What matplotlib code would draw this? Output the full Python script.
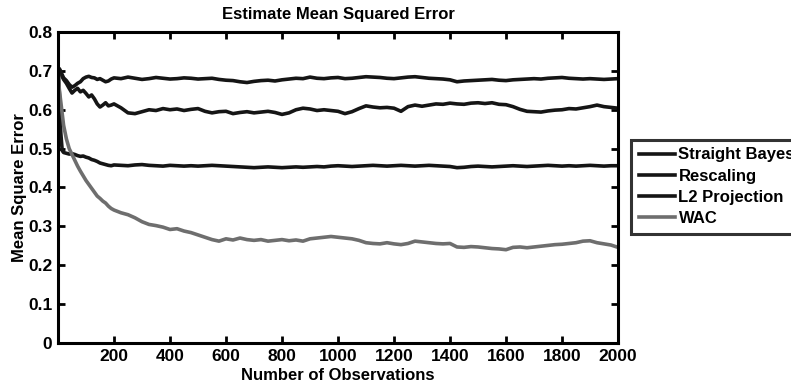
import matplotlib
matplotlib.use("Agg")
import matplotlib.pyplot as plt

# ---- data ----
x_early = [1, 5, 10, 15, 20, 30, 40, 50, 60, 70, 80, 90, 100, 110, 120, 130,
           140, 150, 160, 170, 180, 190]
x_late = list(range(200, 2001, 25))
observations = x_early + x_late

straight_bayes = [
    0.700, 0.705, 0.698, 0.690, 0.682, 0.675, 0.665, 0.658, 0.662, 0.668, 0.672,
    0.680, 0.684, 0.686, 0.683, 0.682, 0.678, 0.680, 0.676, 0.672, 0.674, 0.679,
    0.682, 0.680, 0.684, 0.681, 0.678, 0.680, 0.683, 0.681,
    0.679, 0.680, 0.682, 0.681, 0.679, 0.680, 0.681, 0.678,
    0.676, 0.675, 0.672, 0.670, 0.673, 0.675, 0.676, 0.674,
    0.677, 0.679, 0.681, 0.680, 0.684, 0.681, 0.680, 0.682,
    0.683, 0.680, 0.681, 0.683, 0.685, 0.684, 0.683, 0.681,
    0.680, 0.682, 0.684, 0.685, 0.683, 0.681, 0.680, 0.679,
    0.677, 0.672, 0.674, 0.675, 0.676, 0.677, 0.678, 0.676,
    0.675, 0.677, 0.678, 0.679, 0.680, 0.679, 0.681, 0.682,
    0.683, 0.681, 0.680, 0.679, 0.680, 0.679, 0.678, 0.679,
    0.680,
]

rescaling = [
    0.700, 0.705, 0.695, 0.685, 0.678, 0.668, 0.655, 0.643, 0.650, 0.655, 0.646,
    0.650, 0.642, 0.633, 0.638, 0.628, 0.615, 0.607, 0.612, 0.618, 0.610, 0.612,
    0.615, 0.605, 0.592, 0.590, 0.595, 0.600, 0.598, 0.603,
    0.600, 0.602, 0.598, 0.601, 0.603, 0.596, 0.592, 0.595,
    0.596, 0.590, 0.593, 0.595, 0.592, 0.594, 0.596, 0.593,
    0.588, 0.592, 0.600, 0.604, 0.602, 0.598, 0.600, 0.598,
    0.596, 0.590, 0.595, 0.603, 0.610, 0.607, 0.605, 0.606,
    0.604, 0.596, 0.608, 0.612, 0.609, 0.612, 0.615, 0.614,
    0.617, 0.615, 0.614, 0.617, 0.618, 0.616, 0.618, 0.614,
    0.613, 0.608, 0.601, 0.596, 0.595, 0.594, 0.597, 0.599,
    0.600, 0.603, 0.602, 0.605, 0.608, 0.612, 0.608, 0.606,
    0.604,
]

l2_projection = [
    0.700, 0.640, 0.540, 0.495, 0.490, 0.488, 0.486, 0.487, 0.485, 0.482, 0.480,
    0.481, 0.478, 0.476, 0.472, 0.470, 0.467, 0.463, 0.461, 0.459, 0.457, 0.456,
    0.458, 0.457, 0.456, 0.458, 0.459, 0.457, 0.456, 0.455,
    0.457, 0.456, 0.455, 0.456, 0.455, 0.456, 0.457, 0.456,
    0.455, 0.454, 0.453, 0.452, 0.451, 0.452, 0.453, 0.452,
    0.451, 0.452, 0.453, 0.452, 0.453, 0.454, 0.453, 0.455,
    0.456, 0.455, 0.454, 0.455, 0.456, 0.457, 0.456, 0.455,
    0.456, 0.457, 0.456, 0.455, 0.456, 0.457, 0.456, 0.455,
    0.454, 0.451, 0.452, 0.454, 0.455, 0.454, 0.453, 0.454,
    0.455, 0.456, 0.455, 0.454, 0.455, 0.456, 0.457, 0.456,
    0.455, 0.456, 0.455, 0.456, 0.457, 0.456, 0.455, 0.456,
    0.456,
]

wac = [
    0.690, 0.650, 0.620, 0.590, 0.560, 0.525, 0.500, 0.485, 0.470, 0.455, 0.442,
    0.430, 0.418, 0.408, 0.398, 0.388, 0.378, 0.372, 0.365, 0.360, 0.352, 0.346,
    0.342, 0.335, 0.330, 0.322, 0.312, 0.305, 0.302, 0.298,
    0.292, 0.294, 0.288, 0.284, 0.278, 0.272, 0.266, 0.262,
    0.268, 0.265, 0.270, 0.266, 0.264, 0.266, 0.262, 0.264,
    0.266, 0.263, 0.265, 0.262, 0.268, 0.270, 0.272, 0.274,
    0.272, 0.270, 0.268, 0.264, 0.258, 0.256, 0.255, 0.258,
    0.255, 0.253, 0.256, 0.262, 0.260, 0.258, 0.256, 0.255,
    0.256, 0.247, 0.246, 0.248, 0.247, 0.245, 0.243, 0.242,
    0.240, 0.246, 0.247, 0.245, 0.247, 0.249, 0.251, 0.253,
    0.254, 0.256, 0.258, 0.262, 0.263, 0.258, 0.255, 0.252,
    0.246,
]

series_names = ["Straight Bayes", "Rescaling", "L2 Projection", "WAC"]
x_ticks = [200, 400, 600, 800, 1000, 1200, 1400, 1600, 1800, 2000]
y_ticks = [0, 0.1, 0.2, 0.3, 0.4, 0.5, 0.6, 0.7, 0.8]
y_tick_labels = ["0", "0.1", "0.2", "0.3", "0.4", "0.5", "0.6", "0.7", "0.8"]

# ---- plot ----
plt.rcParams['font.family'] = ['Liberation Sans', 'DejaVu Sans']
plt.rcParams['font.weight'] = 'bold'

W, H = 791, 385
fig = plt.figure(figsize=(W / 100, H / 100), dpi=100)
ax = fig.add_axes([58 / W, 1 - 343 / H, (618 - 58) / W, (343 - 32) / H])

colors = ["#151515", "#151515", "#151515", "#6e6e6e"]
for vals, name, c in zip([straight_bayes, rescaling, l2_projection, wac],
                         series_names, colors):
    ax.plot(observations, vals, color=c, lw=2.6, label=name)

ax.set_xlim(0, 2000)
ax.set_ylim(0, 0.8)
ax.set_xticks(x_ticks)
ax.set_yticks(y_ticks)
ax.set_yticklabels(y_tick_labels)
ax.tick_params(direction='in', length=5, width=2, top=True, right=True,
               labelsize=12.5, pad=4)
for lab in ax.get_xticklabels() + ax.get_yticklabels():
    lab.set_fontweight('bold')
for s in ax.spines.values():
    s.set_linewidth(2.2)

ax.set_title("Estimate Mean Squared Error", fontsize=12, fontweight='bold', pad=9)
ax.set_xlabel("Number of Observations", fontsize=12, fontweight='bold', labelpad=3)
ax.set_ylabel("Mean Square Error", fontsize=12, fontweight='bold', labelpad=1)

leg = ax.legend(loc='upper left', bbox_to_anchor=(631 / W, 1 - 140 / H),
                bbox_transform=fig.transFigure, fancybox=False, frameon=True,
                edgecolor='black', fontsize=12, handlelength=2.2,
                handletextpad=0.2, labelspacing=0.37, borderpad=0.45,
                borderaxespad=0)
leg.get_frame().set_linewidth(2.2)
for t in leg.get_texts():
    t.set_fontweight('bold')

fig.savefig("out.png", dpi=100)
